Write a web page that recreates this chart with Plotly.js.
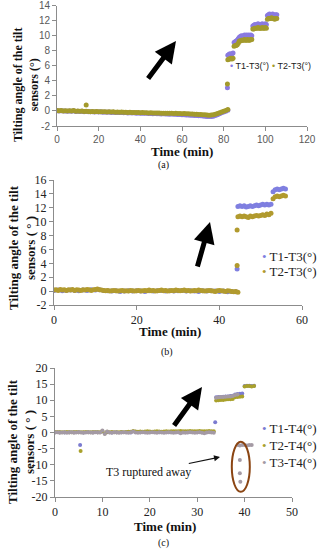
<!DOCTYPE html>
<html>
<head>
<meta charset="utf-8">
<script src="https://cdn.plot.ly/plotly-3.0.1.min.js"></script>
<style>html,body{margin:0;padding:0;background:#fff;}#chart{width:323px;height:550px;}</style>
</head>
<body>
<div id="chart"></div>
<script>
// ---------- Panel (a) ----------
var seriesA = ["T1-T3(°)", "T2-T3(°)"];
var tA = [0,1,2,3,4,5,6,7,8,9,10,11,12,13,14,15,16,17,18,19,20,21,22,23,24,25,26,27,28,29,30,31,32,33,34,35,36,37,38,39,40,41,42,43,44,45,46,47,48,49,50,51,52,53,54,55,56,57,58,59,60,61,62,63,64,65,66,67,68,69,70,71,72,73,74,75,76,77,78,79,80,81,82];
var t1A = [0.02,0.00,0.03,-0.02,0.01,-0.03,0.00,-0.05,0.02,-0.06,-0.04,-0.08,-0.05,-0.09,-0.07,-0.1,-0.12,-0.09,-0.13,-0.11,-0.15,-0.12,-0.16,-0.14,-0.18,-0.15,-0.2,-0.17,-0.21,-0.19,-0.22,-0.2,-0.24,-0.22,-0.26,-0.24,-0.27,-0.25,-0.29,-0.27,-0.3,-0.29,-0.32,-0.3,-0.34,-0.33,-0.36,-0.34,-0.37,-0.36,-0.39,-0.38,-0.41,-0.4,-0.43,-0.42,-0.45,-0.44,-0.47,-0.46,-0.5,-0.5,-0.53,-0.54,-0.56,-0.57,-0.6,-0.61,-0.63,-0.65,-0.68,-0.7,-0.72,-0.74,-0.73,-0.7,-0.6,-0.5,-0.38,-0.25,-0.15,-0.05,0.1];
var t2A = [0.05,0.02,0.06,0.0,0.04,-0.01,0.03,-0.02,0.05,-0.03,-0.01,-0.05,-0.02,-0.06,-0.03,-0.07,-0.09,-0.06,-0.1,-0.08,-0.11,-0.09,-0.12,-0.1,-0.13,-0.11,-0.15,-0.12,-0.16,-0.14,-0.17,-0.15,-0.18,-0.16,-0.2,-0.18,-0.21,-0.19,-0.22,-0.2,-0.23,-0.22,-0.25,-0.23,-0.26,-0.25,-0.27,-0.26,-0.28,-0.27,-0.3,-0.29,-0.31,-0.3,-0.32,-0.31,-0.33,-0.32,-0.34,-0.33,-0.36,-0.35,-0.37,-0.38,-0.4,-0.41,-0.43,-0.44,-0.46,-0.48,-0.5,-0.52,-0.55,-0.56,-0.55,-0.52,-0.45,-0.35,-0.25,-0.15,-0.05,0.05,0.2];
var tAstep = [82,82.5,83,83.5,84,84.5,85,85.5,86,86.5,87,87.5,88,88.5,89,89.5,90,90.5,91,91.5,92,92.5,93,93.5,94,94.5,95,95.5,96,96.5,97,97.5,98,98.5,99,99.5,100,100.5,101,101.5,102,102.5,103,103.5,104,104.5,105,105.5];
var t1Astep = [7.4,7.5,7.6,7.5,7.6,7.7,9.1,9.2,9.3,9.4,9.6,9.8,9.9,10.0,9.9,10.0,10.1,10.0,10.1,10.0,10.1,10.0,10.1,10.0,11.3,11.4,11.5,11.4,11.5,11.6,11.5,11.4,11.5,11.6,11.5,11.5,11.6,11.5,12.7,12.8,12.9,12.8,12.8,12.9,12.8,12.7,12.8,12.8];
var t2Astep = [6.8,6.9,6.9,7.0,6.9,7.0,8.6,8.7,8.7,8.8,9.0,9.3,9.3,9.4,9.4,9.4,9.5,9.4,9.4,9.5,9.4,9.4,9.5,9.5,10.9,10.9,11.0,11.0,11.0,11.1,11.0,11.0,11.0,11.1,11.0,11.0,11.1,11.0,12.2,12.3,12.3,12.3,12.4,12.3,12.3,12.2,12.3,12.3];
var t1AoutX = [81.8], t1AoutY = [3.1];
var t2AoutX = [14, 81.8], t2AoutY = [0.8, 3.6];
var xTicksA = [0,20,40,60,80,100,120];
var yTicksA = [-2,0,2,4,6,8,10,12,14];

// ---------- Panel (b) ----------
var seriesB = ["T1-T3(°)", "T2-T3(°)"];
var tB1 = [0,1,2,3,4,5,6,7,8,9,10,11,12,13,14,15,16,17,18,19,20,21,22,23,24,25,26,27,28,29,30,31,32,33,34,35,36,37,38,39,40,41,42,43,44];
var t1B = [0.1,0.15,0.05,0.1,0.15,0.1,0.05,0.15,0.1,0.2,0.15,0.2,0.1,0.05,0.0,0.05,-0.05,0.0,0.05,0.0,0.05,0.0,-0.05,0.05,0.0,0.05,0.1,0.0,0.05,0.0,0.05,0.1,0.0,0.05,0.0,-0.05,0.05,0.0,0.05,0.0,-0.05,0.0,-0.1,-0.05,-0.1];
var tB2 = [0,0.5,1,1.5,2,2.5,3,3.5,4,4.5,5,5.5,6,6.5,7,7.5,8,8.5,9,9.5,10,10.5,11,11.5,12,12.5,13,13.5,14,14.5,15,15.5,16,16.5,17,17.5,18,18.5,19,19.5,20,20.5,21,21.5,22,22.5,23,23.5,24,24.5,25,25.5,26,26.5,27,27.5,28,28.5,29,29.5,30,30.5,31,31.5,32,32.5,33,33.5,34,34.5,35,35.5,36,36.5,37,37.5,38,38.5,39,39.5,40,40.5,41,41.5,42,42.5,43,43.5,44,44.5];
var t2B = [0.15,0.2,0.1,0.25,0.15,0.2,0.1,0.2,0.15,0.25,0.1,0.2,0.15,0.1,0.2,0.15,0.25,0.2,0.1,0.2,0.25,0.3,0.2,0.15,0.1,0.05,0.1,0.0,0.05,0.1,0.05,0.0,0.05,0.1,0.0,0.05,0.0,0.1,0.05,0.0,0.05,0.1,0.0,0.05,0.1,0.05,0.15,0.05,0.1,0.0,0.05,0.1,0.15,0.05,0.1,0.0,0.05,0.1,0.05,0.15,0.1,0.05,0.1,0.15,0.05,0.1,0.0,0.05,0.1,0.05,0.15,0.1,0.05,0.0,0.05,0.1,0.05,0.0,-0.05,0.05,0.1,0.05,0.0,-0.05,0.05,0.0,-0.05,-0.1,-0.05,-0.15];
var tBstep = [44.5,45,45.5,46,46.5,47,47.5,48,48.5,49,49.5,50,50.5,51,51.5,52,52.5,53,53.5,54,54.5,55,55.5,56];
var t1Bstep = [12.2,12.3,12.2,12.3,12.1,12.2,12.3,12.2,12.3,12.4,12.3,12.4,12.5,12.4,12.5,12.4,12.5,14.3,14.6,14.7,14.6,14.7,14.8,14.7];
var t2Bstep = [10.7,10.8,10.7,10.8,10.7,10.6,10.8,10.7,10.8,10.9,10.8,10.9,11.0,10.9,11.1,11.0,11.2,13.3,13.6,13.7,13.6,13.7,13.8,13.7];
var t1BoutX = [44.3], t1BoutY = [3.2];
var t2BoutX = [44.3, 44.3], t2BoutY = [8.8, 3.7];
var xTicksB = [0,20,40,60];
var yTicksB = [-2,0,2,4,6,8,10,12,14,16];

// ---------- Panel (c) ----------
var seriesC = ["T1-T4(°)", "T2-T4(°)", "T3-T4(°)"];
var tC1 = [0,1,2,3,4,5,6,7,8,9,10,11,12,13,14,15,16,17,18,19,20,21,22,23,24,25,26,27,28,29,30,31,32,33];
var t1C = [0.05,0.1,0.0,0.05,0.1,0.05,0.0,0.05,0.1,0.05,0.3,0.05,0.0,0.05,0.1,0.05,0.0,0.2,0.1,0.05,0.1,0.15,0.1,0.05,0.1,0.15,0.1,0.05,0.1,0.15,0.1,0.05,0.1,0.15];
var tC = [0,0.5,1,1.5,2,2.5,3,3.5,4,4.5,5,5.5,6,6.5,7,7.5,8,8.5,9,9.5,10,10.5,11,11.5,12,12.5,13,13.5,14,14.5,15,15.5,16,16.5,17,17.5,18,18.5,19,19.5,20,20.5,21,21.5,22,22.5,23,23.5,24,24.5,25,25.5,26,26.5,27,27.5,28,28.5,29,29.5,30,30.5,31,31.5,32,32.5,33,33.5];
var t2C = [0.1,0.15,0.1,0.05,0.1,0.15,0.1,0.05,0.1,0.15,0.1,0.05,0.1,0.15,0.1,0.05,0.1,0.15,0.1,0.05,0.5,-0.3,0.2,0.1,0.15,0.1,0.05,0.1,0.15,0.1,0.15,0.2,0.25,0.5,0.3,0.25,0.3,0.25,0.3,0.35,0.3,0.25,0.3,0.35,0.3,0.25,0.3,0.35,0.3,0.35,0.4,0.35,0.4,0.45,0.4,0.35,0.4,0.45,0.4,0.35,0.4,0.45,0.4,0.35,0.4,0.45,0.4,0.35];
var t3C = [0.0,0.05,-0.05,0.0,0.05,-0.1,0.0,0.05,-0.05,0.0,0.05,0.0,-0.05,0.0,0.05,0.0,-0.05,0.05,0.0,0.0,0.6,-0.5,0.3,0.0,-0.05,0.05,0.0,-0.05,0.0,0.05,0.0,-0.05,0.05,0.3,0.0,-0.05,0.0,0.05,0.0,-0.05,0.0,0.05,0.0,-0.05,0.05,0.0,-0.05,0.0,0.05,0.0,-0.05,0.0,0.05,-0.2,0.0,-0.05,0.0,0.05,0.0,-0.05,0.0,0.05,-0.05,-0.2,0.0,0.05,0.0,-0.05];
var tCstep = [34,34.5,35,35.5,36,36.5,37,37.5,38,38.5,39,39.5,40,40.5,41,41.5,42];
var t1Cstep = [10.9,11.0,11.0,11.1,11.2,11.2,11.3,11.4,11.8,11.9,12.0,12.1,14.4,14.5,14.5,14.4,14.5];
var t2Cstep = [9.9,10.0,10.1,10.1,10.2,10.3,10.3,10.4,10.9,11.0,11.1,11.2,14.3,14.4,14.4,14.3,14.4];
var tC3step = [34,34.5,35,35.5,36,36.5,37,37.5,38,38.5];
var t3Cstep = [10.8,10.9,11.0,11.0,11.1,11.2,11.2,11.3,11.6,11.8];
var tC3after = [38.6,39,39.5,40,40.5,41,41.5];
var t3Cafter = [-3.9,-4.0,-3.9,-3.9,-4.0,-3.9,-3.9];
var t1CoutX = [5.3, 33.8], t1CoutY = [-3.9, 3.2];
var t2CoutX = [5.4], t2CoutY = [-5.7];
var t3CoutX = [39, 39, 39.1], t3CoutY = [-8.5, -12.6, -15.3];
var xTicksC = [0,10,20,30,40,50];
var yTicksC = [-20,-15,-10,-5,0,5,10,15,20];

// ---------- styles ----------
var colA = ["#8a7ae0", "#a39a2c"];
var colB = ["#7f7fe0", "#b19a2e"];
var colC = ["#7b7bd0", "#a9a12c", "#a49aa4"];

function sc(name, xs, ys, color, size, xa, ya) {
  return {type: "scatter", mode: "markers", name: name, x: xs, y: ys,
    xaxis: xa, yaxis: ya, showlegend: false, hoverinfo: "skip",
    marker: {color: color, size: size, line: {width: 0}}};
}

var traces = [
  sc(seriesA[0], tA.concat(t1AoutX, tAstep), t1A.concat(t1AoutY, t1Astep), colA[0], 5, "x", "y"),
  sc(seriesA[1], tA.concat(t2AoutX, tAstep), t2A.concat(t2AoutY, t2Astep), colA[1], 5, "x", "y"),
  sc(seriesB[0], tB1.concat(t1BoutX, tBstep), t1B.concat(t1BoutY, t1Bstep), colB[0], 5, "x2", "y2"),
  sc(seriesB[1], tB2.concat(t2BoutX, tBstep), t2B.concat(t2BoutY, t2Bstep), colB[1], 5, "x2", "y2"),
  sc(seriesC[0], tC1.concat(t1CoutX, tCstep), t1C.concat(t1CoutY, t1Cstep), colC[0], 4, "x3", "y3"),
  sc(seriesC[1], tC.concat(t2CoutX, tCstep), t2C.concat(t2CoutY, t2Cstep), colC[1], 4, "x3", "y3"),
  sc(seriesC[2], tC.concat(tC3step, tC3after, t3CoutX), t3C.concat(t3Cstep, t3Cafter, t3CoutY), colC[2], 4, "x3", "y3")
];

var serif = "Liberation Serif, Times New Roman, serif";
var sans = "Liberation Sans, Arial, sans-serif";
var lineCol = "#8c8c8c";

function axbase(domain, range, tv, anchor, fam, fsize, fcol) {
  return {domain: domain, range: range, anchor: anchor, tickvals: tv, ticktext: tv.map(String),
    showgrid: false, zeroline: false, showline: true, linecolor: lineCol, linewidth: 1,
    ticks: "outside", ticklen: 4, tickcolor: lineCol, fixedrange: true,
    tickfont: {family: fam, size: fsize, color: fcol}};
}

var W = 323, H = 550;
function px(x) { return x / W; }
function py(y) { return 1 - y / H; }

function ytitle(line2, cx, cy, size) {
  return {xref: "paper", yref: "paper", x: px(cx), y: py(cy), xanchor: "center", yanchor: "middle",
    showarrow: false, textangle: -90, align: "center",
    text: "Tilting angle of the tilt<br>" + line2,
    font: {family: serif, size: size, weight: 700, color: "#111"}};
}
function xtitle(cx, cy) {
  return {xref: "paper", yref: "paper", x: px(cx), y: py(cy), xanchor: "center", yanchor: "middle",
    showarrow: false, text: "Time (min)",
    font: {family: serif, size: 13, weight: 700, color: "#111"}};
}
function cap(t, cx, cy) {
  return {xref: "paper", yref: "paper", x: px(cx), y: py(cy), xanchor: "center", yanchor: "middle",
    showarrow: false, text: t, font: {family: serif, size: 10, color: "#111"}};
}
function arrow(hx, hy, tx, ty) {
  return {xref: "paper", yref: "paper", x: px(hx), y: py(hy), ax: tx - hx, ay: ty - hy,
    text: "", showarrow: true, arrowhead: 2, arrowsize: 0.85, arrowwidth: 5, arrowcolor: "#000", standoff: 0};
}
function leg(name, color, lx, ly, fam, size) {
  return {xref: "paper", yref: "paper", x: px(lx), y: py(ly), xanchor: "left", yanchor: "middle",
    showarrow: false, align: "left",
    text: '<span style="color:' + color + '">•</span> ' + name,
    font: {family: fam, size: size, color: "#222"}};
}

var annotations = [
  ytitle("sensors (°)", 26, 85, 12),
  ytitle("sensors ( ° )", 22, 248, 13),
  ytitle("sensors ( ° )", 21, 442, 13),
  xtitle(182, 151.5), xtitle(170, 331), xtitle(165, 526),
  cap("(a)", 163, 165), cap("(b)", 167, 352), cap("(c)", 163, 543),
  arrow(176, 41, 147, 80),
  arrow(210, 222, 197, 268),
  arrow(202, 387, 173, 427),
  {xref: "paper", yref: "paper", x: px(220), y: py(457), ax: -72, ay: 15,
   text: "T3 ruptured away", showarrow: true, arrowhead: 2, arrowsize: 1, arrowwidth: 1.2,
   arrowcolor: "#111", standoff: 0, font: {family: serif, size: 12, color: "#111"}},
  leg(seriesA[0], colA[0], 228, 66, sans, 9),
  leg(seriesA[1], colA[1], 270, 66, sans, 9),
  leg(seriesB[0], colB[0], 260, 256, serif, 13),
  leg(seriesB[1], colB[1], 260, 271, serif, 13),
  leg(seriesC[0], colC[0], 260, 428, serif, 13),
  leg(seriesC[1], colC[1], 260, 445, serif, 13),
  leg(seriesC[2], colC[2], 260, 462, serif, 13)
];

var layout = {
  width: W, height: H,
  margin: {l: 0, r: 0, t: 0, b: 0},
  paper_bgcolor: "#fff", plot_bgcolor: "rgba(0,0,0,0)",
  showlegend: false,
  xaxis: axbase([px(57), px(307)], [0, 120], xTicksA, "y", sans, 10, "#595959"),
  yaxis: axbase([py(126), py(5.7)], [-2, 14], yTicksA, "x", sans, 10, "#595959"),
  xaxis2: axbase([px(54), px(302)], [0, 60], xTicksB, "y2", serif, 12, "#222"),
  yaxis2: axbase([py(305), py(180)], [-2, 16], yTicksB, "x2", serif, 12, "#222"),
  xaxis3: axbase([px(55), px(292)], [0, 50], xTicksC, "y3", serif, 12, "#222"),
  yaxis3: axbase([py(497), py(368)], [-20, 20], yTicksC, "x3", serif, 12, "#222"),
  shapes: [{type: "circle", xref: "x3", yref: "y3", x0: 37.3, x1: 41.1, y0: -18.4, y1: -2.9,
            line: {color: "#8b4513", width: 2}}],
  annotations: annotations
};

Plotly.newPlot("chart", traces, layout, {displayModeBar: false, staticPlot: true});
</script>
</body>
</html>
